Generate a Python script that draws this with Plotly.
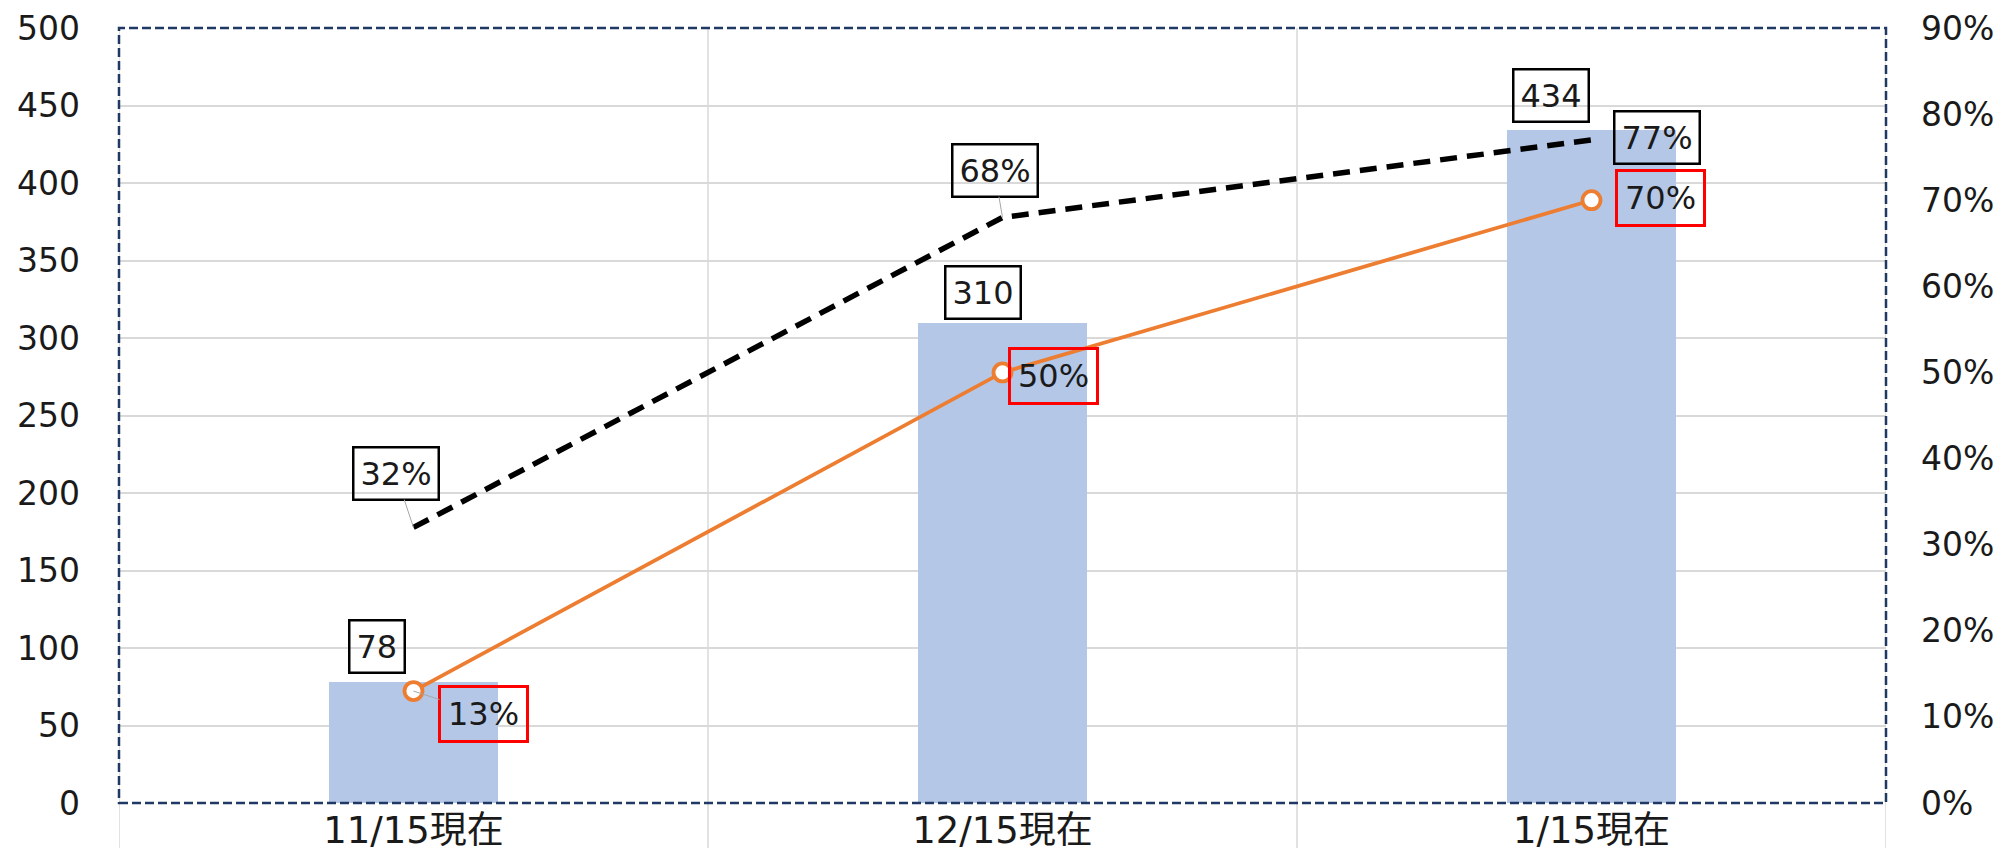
import plotly.graph_objects as go

categories = ["11/15現在", "12/15現在", "1/15現在"]
counts = [78, 310, 434]
rate_black = [32, 68, 77]   # percent, dashed black line
rate_orange = [13, 50, 70]  # percent, orange line

left_ticks = list(range(0, 501, 50))
right_ticks = list(range(0, 91, 10))

FONT = "DejaVu Sans, Noto Sans CJK JP, sans-serif"
TXT = "#1a1a1a"
xs = list(range(len(categories)))

fig = go.Figure()
fig.add_trace(go.Bar(x=xs, y=counts, marker=dict(color="#B4C7E7", line=dict(width=0)),
                     width=0.287, yaxis="y", hoverinfo="skip"))
fig.add_trace(go.Scatter(x=xs, y=rate_black, yaxis="y2", mode="lines",
                         line=dict(color="black", width=5.5, dash="17px,10px"), hoverinfo="skip"))
fig.add_trace(go.Scatter(x=xs, y=rate_orange, yaxis="y2", mode="lines+markers",
                         line=dict(color="#ED7D31", width=3.8),
                         marker=dict(size=18, color="white", line=dict(color="#ED7D31", width=3.8)),
                         hoverinfo="skip"))

annotations = []
LBL = dict(size=32, color=TXT, family=FONT)
# bar labels (pixel offsets of label centre from bar top)
bar_off = [(-37, 36), (-20, 30), (-41, 35)]
for i, v in enumerate(counts):
    dx, dy = bar_off[i]
    annotations.append(dict(x=i, y=v, xref="x", yref="y", text=str(v), showarrow=False,
                            xshift=dx, yshift=dy, bordercolor="black", borderwidth=2.5,
                            borderpad=6, font=LBL))
black_off = [(-18, 54, True), (-8, 47, True), (65, 2, False)]
for i, v in enumerate(rate_black):
    dx, dy, arrow = black_off[i]
    a = dict(x=i, y=v, xref="x", yref="y2", text=f"{v}%",
             bordercolor="black", borderwidth=2.5, borderpad=6, font=LBL)
    if arrow:
        a.update(showarrow=True, ax=dx, ay=-dy, axref="pixel", ayref="pixel",
                 arrowhead=0, arrowwidth=1, arrowcolor="#A6A6A6", standoff=0)
    else:
        a.update(showarrow=False, xshift=dx, yshift=dy)
    annotations.append(a)
orange_off = [(70, -23, True), (51, -4, False), (69, 2, False)]
for i, v in enumerate(rate_orange):
    dx, dy, arrow = orange_off[i]
    a = dict(x=i, y=v, xref="x", yref="y2", text=f"{v}%",
             bordercolor="#FF0000", borderwidth=3, borderpad=7, font=LBL)
    if arrow:
        a.update(showarrow=True, ax=dx, ay=-dy, axref="pixel", ayref="pixel",
                 arrowhead=0, arrowwidth=1, arrowcolor="#A6A6A6", standoff=0)
    else:
        a.update(showarrow=False, xshift=dx, yshift=dy)
    annotations.append(a)

shapes = []
# vertical category boundary lines
for b in [-0.5, 0.5, 1.5, 2.5]:
    shapes.append(dict(type="line", xref="x", yref="paper", x0=b, x1=b, y0=-0.08, y1=1,
                       line=dict(color="#D9D9D9", width=1.5), layer="below"))
# dashed border
shapes.append(dict(type="rect", xref="paper", yref="paper", x0=0, x1=1, y0=0, y1=1,
                   line=dict(color="#1F3864", width=2.5, dash="9px,4px"), layer="above"))

TICK = dict(size=33, family=FONT, color=TXT)
fig.update_layout(
    width=2006, height=848,
    margin=dict(l=111, r=128, t=20, b=53, autoexpand=False),
    paper_bgcolor="white", plot_bgcolor="white",
    showlegend=False,
    font=dict(family=FONT, size=32, color=TXT),
    xaxis=dict(range=[-0.5, 2.5], tickvals=xs, ticktext=categories, showgrid=False,
               zeroline=False, ticks="", showline=False, automargin=False,
               tickfont=dict(size=37, family=FONT, color=TXT), ticklabelstandoff=2),
    yaxis=dict(range=[0, 500], tickvals=left_ticks, showgrid=True, gridcolor="#D9D9D9",
               gridwidth=1.5, zeroline=False, ticks="", showline=False, automargin=False,
               tickfont=TICK, ticklabelstandoff=38),
    yaxis2=dict(range=[0, 90], tickvals=right_ticks, ticktext=[f"{t}%" for t in right_ticks],
                overlaying="y", side="right", showgrid=False, zeroline=False, ticks="",
                showline=False, automargin=False, tickfont=TICK, ticklabelstandoff=34),
    annotations=annotations, shapes=shapes,
    bargap=0,
)

fig.write_html("out.html")
